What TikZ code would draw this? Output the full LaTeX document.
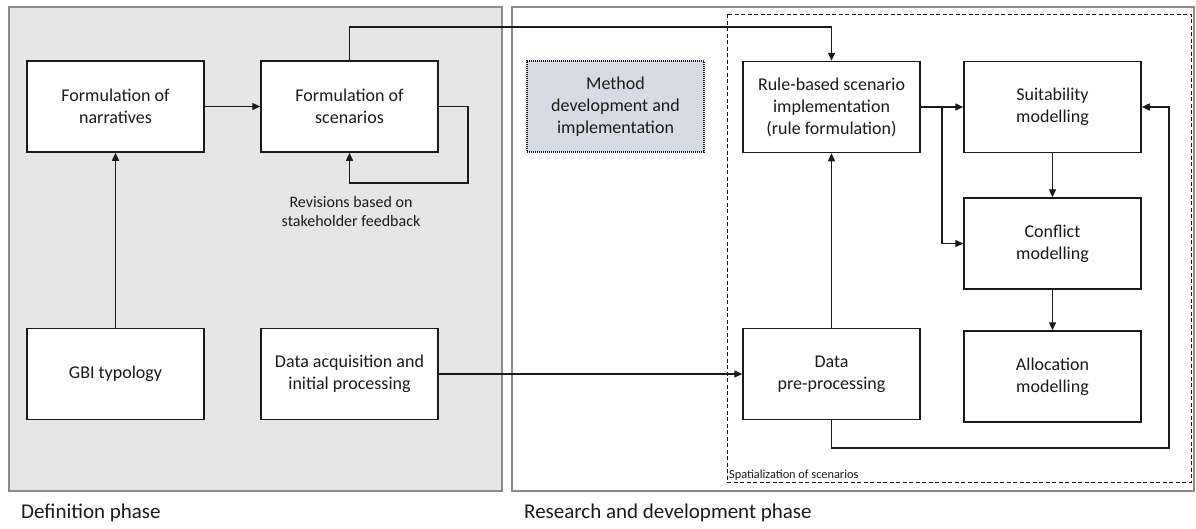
\documentclass[tikz,border=0pt]{standalone}
\usepackage{fontspec}
\setmainfont{Carlito}
\usetikzlibrary{arrows.meta}
\definecolor{panelgray}{HTML}{E6E6E6}
\definecolor{panelline}{HTML}{8A8A8A}
\definecolor{methodfill}{HTML}{D6DCE5}
\definecolor{ink}{HTML}{1A1A1A}
\begin{document}
\begin{tikzpicture}[x=1pt,y=-1pt,
  stepbox/.style={draw=ink,line width=1.5pt,fill=white,minimum width=177pt,
    minimum height=91pt,inner sep=0pt,align=center,text=ink,
    font=\fontsize{18}{22}\selectfont},
  conn/.style={draw=ink,line width=1.4pt},
  arr/.style={conn,-{Triangle[length=8pt,width=7pt]}},
  phase/.style={anchor=west,text=ink,font=\fontsize{21}{25}\selectfont,inner sep=0pt}]
\useasboundingbox (0,0) rectangle (1196,528);

% phase panels
\draw[panelline,line width=1.6pt,fill=panelgray] (9,7) rectangle (502,491);
\draw[panelline,line width=1.6pt,fill=white] (512,7) rectangle (1194,491);
\draw[ink,line width=1pt,dash pattern=on 4pt off 2.5pt] (727,14) rectangle (1191,482);

% definition phase
\node[stepbox] (narr) at (115.5,106.5) {Formulation of\\narratives};
\node[stepbox] (scen) at (349.5,106.5) {Formulation of\\scenarios};
\node[stepbox] (gbi)  at (115.5,374) {GBI typology};
\node[stepbox] (acq)  at (349.5,374) {Data acquisition and\\initial processing};
\node[align=center,text=ink,font=\fontsize{16}{19}\selectfont] (rev) at (351,211.5)
  {Revisions based on\\stakeholder feedback};

% research and development phase
\node[stepbox,fill=methodfill,draw=ink,line width=1.1pt,dash pattern=on 1pt off 1pt]
  (meth) at (615.5,106.5) {Method\\development and\\implementation};
\node[stepbox] (rule)  at (831.5,107) {Rule-based scenario\\implementation\\(rule formulation)};
\node[stepbox] (pre)   at (831.5,374) {Data\\pre-processing};
\node[stepbox] (suit)  at (1052.5,107) {Suitability\\modelling};
\node[stepbox] (conf)  at (1052.5,243.5) {Conflict\\modelling};
\node[stepbox] (alloc) at (1052.5,376.5) {Allocation\\modelling};

\node[anchor=west,inner sep=0pt,text=ink,font=\fontsize{12.3}{14}\selectfont] (spat) at (729,475)
  {Spatialization of scenarios};
\node[phase] (defl) at (21,513) {Definition phase};
\node[phase] (resl) at (524,513) {Research and development phase};

% connectors
\coordinate (top) at (831.5,27);
\coordinate (rv) at (468,183);
\coordinate (br) at (942,107);
\coordinate (fb) at (1169,448);

\draw[arr] (gbi.north) -- (narr.south);
\draw[arr] (narr.east) -- (scen.west);
\draw[arr] (scen.east) -| (rv) -| (scen.south);
\draw[arr] (scen.north) |- (top) -- (rule.north);
\draw[arr] (acq.east) -- (pre.west);
\draw[arr] (pre.north) -- (rule.south);
\draw[conn] (rule.east) -- (br);
\draw[arr] (br) -- (suit.west);
\draw[arr] (br) |- (conf.west);
\draw[arr] (suit.south) -- (conf.north);
\draw[arr] (conf.south) -- (alloc.north);
\draw[arr] (pre.south) |- (fb) |- (suit.east);
\end{tikzpicture}
\end{document}
